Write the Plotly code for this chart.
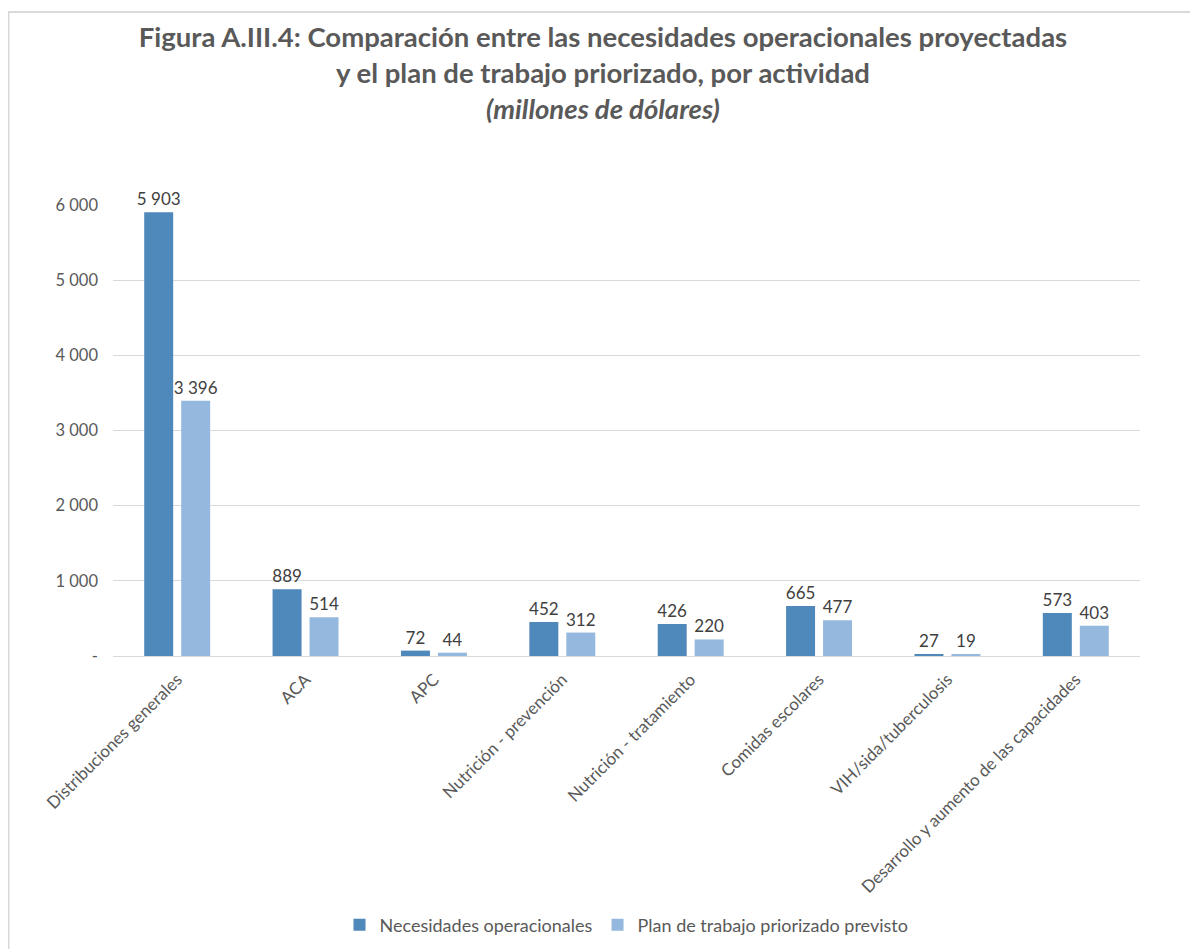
import plotly.graph_objects as go

categories = ["Distribuciones generales", "ACA", "APC", "Nutrición - prevención",
              "Nutrición - tratamiento", "Comidas escolares", "VIH/sida/tuberculosis",
              "Desarrollo y aumento de las capacidades"]
necesidades = [5903, 889, 72, 452, 426, 665, 27, 573]
plan = [3396, 514, 44, 312, 220, 477, 19, 403]
tick_vals = [0, 1000, 2000, 3000, 4000, 5000, 6000]
tick_text = ["-", "1 000", "2 000", "3 000", "4 000", "5 000", "6 000"]

def fmt(v):
    return f"{v:,}".replace(",", " ")

FONT = "Lato, Carlito, 'Open Sans', sans-serif"
# page body has an 8px margin, so figure is 8px smaller and coords are screen-8
W, H = 1190, 941
ML, MR, MT, MB = 105, 58, 197, 293
PLOT_H = H - MT - MB
PLOT_W = W - ML - MR

fig = go.Figure()
for name, vals, col in [("Necesidades operacionales", necesidades, "#4F88BB"),
                        ("Plan de trabajo priorizado previsto", plan, "#95B8DE")]:
    fig.add_trace(go.Bar(x=categories, y=vals, name=name,
                         marker=dict(color=col, line=dict(width=0)),
                         text=[fmt(v) for v in vals],
                         textposition="outside", cliponaxis=False, constraintext="none",
                         textfont=dict(size=17, color="#404040", family=FONT)))

fig.update_layout(
    width=W, height=H,
    paper_bgcolor="white", plot_bgcolor="white",
    font=dict(family=FONT, color="#595959", size=16),
    margin=dict(l=ML, r=MR, t=MT, b=MB, autoexpand=False),
    barmode="group", bargap=0.424, bargroupgap=0.216,
    title=dict(
        text="<b>Figura A.III.4: Comparación entre las necesidades operacionales proyectadas<br>"
             "y el plan de trabajo priorizado, por actividad<br><i>(millones de dólares)</i></b>",
        x=0.5, xanchor="center", y=1 - 39 / H, yanchor="top",
        font=dict(size=27.5, color="#595959", family=FONT)),
    xaxis=dict(tickangle=-45, showgrid=False, showline=True, linecolor="#D9D9D9",
               linewidth=1, ticks="", automargin=False, ticklabelstandoff=6,
               tickfont=dict(size=17, color="#595959")),
    yaxis=dict(range=[0, 6000], tickvals=tick_vals, ticktext=tick_text,
               showgrid=True, gridcolor="#D9D9D9", zeroline=False, showline=False,
               ticks="", automargin=False, ticklabelstandoff=14,
               tickfont=dict(size=16.5, color="#595959")),
    legend=dict(orientation="h", x=0.5, xanchor="center", y=-(917 - 648) / PLOT_H,
                yanchor="middle", font=dict(size=18, color="#595959")),
    shapes=[dict(type="rect", xref="paper", yref="paper",
                 x0=-(ML - 0.5) / PLOT_W, x1=1.2, y0=-0.8, y1=1 + (MT - 4) / PLOT_H,
                 line=dict(color="#D9D9D9", width=2), layer="below")],
)
fig.write_html("out.html")
